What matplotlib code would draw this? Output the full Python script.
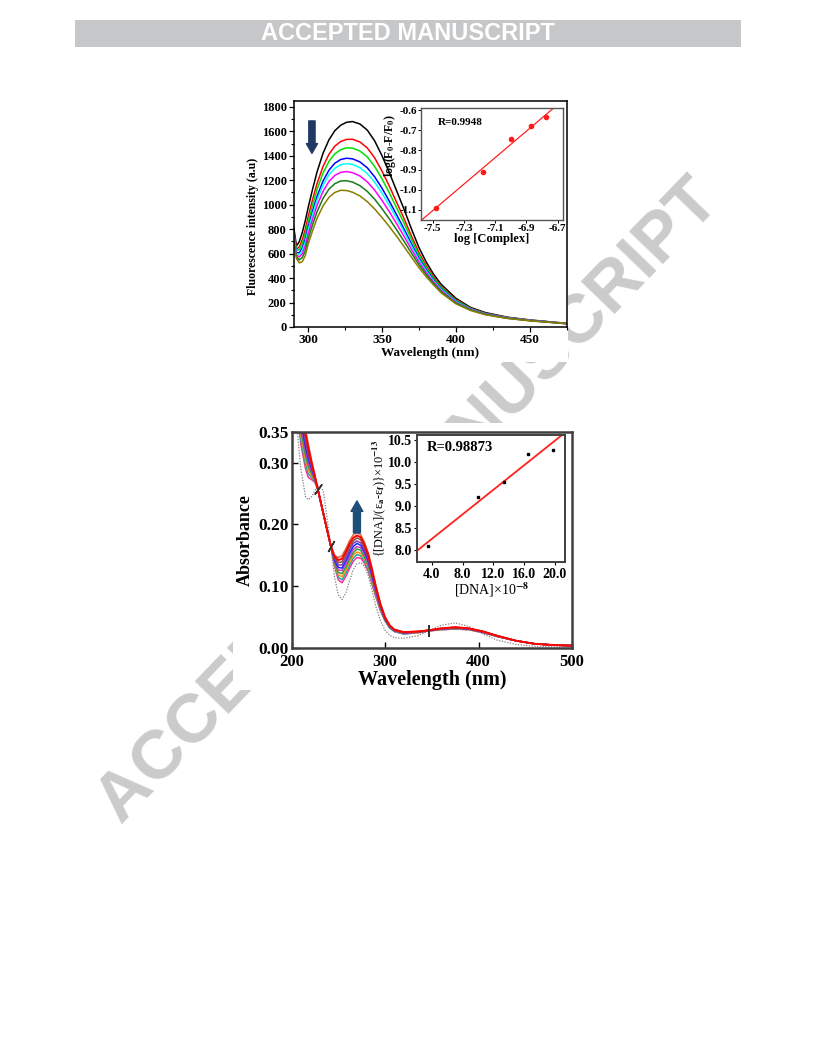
import numpy as np
import matplotlib
matplotlib.use('Agg')
import matplotlib.pyplot as plt
from matplotlib.patches import Rectangle
from matplotlib.markers import MarkerStyle
from matplotlib.ticker import MultipleLocator, FormatStrFormatter, FixedLocator

plt.rcParams['font.family'] = 'Liberation Serif'
plt.rcParams['font.weight'] = 'bold'
plt.rcParams['axes.labelweight'] = 'bold'
plt.rcParams['mathtext.fontset'] = 'stix'
plt.rcParams['axes.unicode_minus'] = False

##FLUORESCENCE QUENCHING DATA
wl_fl = [290, 292, 294, 296, 298, 300, 303, 306, 310, 314, 318, 322, 326, 330, 335, 340,
         345, 350, 355, 360, 365, 370, 375, 380, 385, 390, 400, 410, 420, 435, 450, 475]
fl_black = [830, 662, 700, 775, 870, 980, 1130, 1270, 1420, 1530, 1605, 1650, 1674, 1680, 1660, 1610,
            1522, 1400, 1260, 1110, 960, 800, 650, 530, 430, 350, 235, 160, 118, 80, 58, 30]
fl_red = [795, 636, 656, 715, 799, 905, 1045, 1175, 1312, 1412, 1479, 1517, 1534, 1535, 1513, 1464,
          1383, 1274, 1150, 1017, 884, 742, 609, 500, 408, 332, 224, 154, 113, 77, 56, 29]
fl_green = [777, 624, 634, 685, 763, 867, 1002, 1127, 1259, 1354, 1416, 1450, 1465, 1463, 1439, 1391,
            1313, 1211, 1095, 971, 846, 714, 588, 485, 397, 324, 218, 151, 111, 76, 55, 29]
fl_blue = [756, 608, 607, 649, 720, 822, 951, 1070, 1193, 1282, 1339, 1370, 1380, 1375, 1350, 1302,
           1228, 1134, 1028, 915, 799, 679, 563, 467, 384, 313, 211, 147, 109, 75, 54, 28]
fl_cyan = [745, 600, 593, 629, 697, 798, 924, 1039, 1159, 1245, 1298, 1327, 1335, 1329, 1303, 1255,
           1184, 1093, 993, 885, 775, 660, 550, 457, 377, 308, 208, 145, 107, 74, 54, 28]
fl_magenta = [729, 588, 573, 601, 664, 763, 884, 995, 1109, 1190, 1240, 1265, 1271, 1262, 1235, 1187,
              1119, 1035, 942, 842, 739, 634, 531, 443, 367, 299, 202, 142, 105, 73, 53, 28]
fl_dgreen = [710, 575, 549, 569, 626, 723, 839, 944, 1051, 1127, 1172, 1194, 1196, 1185, 1156, 1109,
             1045, 967, 883, 793, 699, 603, 509, 427, 355, 290, 196, 139, 103, 71, 52, 27]
fl_olive = [690, 560, 524, 535, 585, 680, 790, 890, 990, 1060, 1100, 1118, 1116, 1102, 1072, 1025,
            965, 895, 820, 740, 655, 570, 485, 410, 343, 280, 190, 135, 100, 70, 51, 27]
fl_series = [fl_black, fl_red, fl_green, fl_blue, fl_cyan, fl_magenta, fl_dgreen, fl_olive]
fl_colors = ['black', '#ff0000', '#00e000', '#0000ff', '#00ffff', '#ff00ff', '#1a7a1a', '#8a7d00']

# inset: Stern-Volmer type plot
log_complex = [-7.481, -7.176, -6.998, -6.868, -6.772]
log_ratio = [-1.090, -0.909, -0.742, -0.679, -0.635]

##ABSORPTION TITRATION DATA
wl_ab = [205, 210, 215, 218, 222, 225, 228, 234, 242, 246, 250, 254, 258, 262, 266, 270, 274, 278,
         282, 286, 290, 295, 300, 305, 310, 320, 335, 347, 360, 375, 390, 405, 420, 440, 460, 480, 500]
ab_free = [.37, .29, .245, .240, .246, .255, .263, .255, .165, .115, .086, .078, .088, .108, .126, .136, .138, .132,
           .117, .094, .068, .044, .028, .020, .016, .015, .019, .027, .036, .040, .034, .022, .012, .005, .002, .001, .001]
ab_1 = [.40, .33, .29, .276, .272, .268, .258, .218, .165, .132, .110, .105, .115, .128, .140, .146, .145, .137,
        .124, .104, .083, .060, .043, .032, .026, .022, .024, .027, .029, .030, .029, .024, .018, .011, .006, .004, .003]
ab_2 = [.404, .338, .297, .282, .275, .269, .258, .218, .165, .134, .114, .110, .120, .133, .145, .151, .149, .141,
        .127, .107, .085, .061, .044, .032, .026, .022, .024, .027, .029, .030, .029, .024, .018, .011, .006, .004, .003]
ab_3 = [.409, .346, .304, .288, .278, .271, .258, .218, .165, .136, .118, .115, .125, .138, .150, .155, .153, .145,
        .131, .110, .087, .063, .045, .033, .027, .023, .024, .027, .029, .031, .029, .024, .018, .011, .006, .004, .003]
ab_4 = [.413, .353, .312, .294, .281, .272, .258, .218, .165, .138, .122, .120, .130, .143, .154, .160, .158, .148,
        .134, .113, .089, .064, .045, .033, .027, .023, .025, .027, .030, .031, .030, .025, .018, .011, .006, .004, .003]
ab_5 = [.418, .361, .319, .300, .284, .273, .258, .218, .165, .140, .126, .125, .135, .148, .159, .164, .162, .152,
        .137, .116, .091, .065, .046, .034, .027, .023, .025, .027, .030, .031, .030, .025, .018, .011, .006, .004, .003]
ab_6 = [.422, .369, .326, .306, .288, .275, .258, .218, .165, .142, .130, .129, .140, .153, .164, .169, .166, .156,
        .141, .118, .094, .067, .047, .034, .028, .024, .025, .028, .030, .032, .030, .025, .019, .011, .006, .004, .003]
ab_7 = [.427, .377, .333, .312, .291, .276, .258, .218, .165, .144, .134, .134, .145, .158, .169, .173, .170, .160,
        .144, .121, .096, .068, .048, .035, .028, .024, .025, .028, .030, .032, .030, .025, .019, .011, .006, .004, .003]
ab_8 = [.431, .384, .341, .318, .294, .277, .258, .218, .165, .146, .138, .139, .150, .163, .173, .178, .175, .163,
        .147, .124, .098, .069, .048, .035, .028, .024, .026, .028, .031, .032, .031, .026, .019, .011, .006, .004, .003]
ab_9 = [.436, .392, .348, .324, .297, .279, .258, .218, .165, .148, .142, .144, .155, .168, .178, .182, .179, .167,
        .151, .127, .100, .071, .049, .036, .029, .025, .026, .028, .031, .033, .031, .026, .019, .011, .006, .004, .003]
ab_10 = [.44, .40, .355, .33, .30, .28, .258, .218, .165, .150, .146, .149, .160, .173, .183, .187, .183, .171,
         .154, .130, .102, .072, .050, .036, .029, .025, .026, .028, .031, .033, .031, .026, .019, .011, .006, .004, .003]
ab_series = [ab_1, ab_2, ab_3, ab_4, ab_5, ab_6, ab_7, ab_8, ab_10, ab_9]
ab_colors = ['#ff3399', '#2aa3a3', '#ff8c1a', '#2f9a2f', '#c63fc6', '#2020ff', '#7a3db8', '#8b4c39',
             '#d2693c', '#ff0000']
iso_x = [228, 242, 347]
iso_y = [0.258, 0.165, 0.027]
iso_angle = [-35, -30, 0]

# inset: binding constant plot
dna_conc = [3.48, 10.05, 13.35, 16.55, 19.70]
dna_ratio = [8.09, 9.19, 9.53, 10.18, 10.27]

W, H = 816, 1056
def box(l, t, r, b):
    return [l / W, 1 - b / H, (r - l) / W, (b - t) / H]

fig = plt.figure(figsize=(W / 100, H / 100), dpi=100)

# header bar
fig.patches.append(Rectangle((75 / W, 1 - 47 / H), 666 / W, 27 / H, transform=fig.transFigure,
                             facecolor='#c6c7c9', edgecolor='none', zorder=1))
fig.text(408 / W, 1 - 34 / H, 'ACCEPTED MANUSCRIPT', ha='center', va='center', color='white',
         fontsize=17, family='Liberation Sans', weight='bold', zorder=4)
# watermark
fig.text(409 / W, 1 - 502 / H, 'ACCEPTED MANUSCRIPT', ha='center', va='center', color='#cbcbcb',
         fontsize=50, family='Liberation Sans', weight='bold', rotation=46, zorder=0.5)
# white backing of the two figure images
for (l, t, r, b) in [(245, 95, 568, 362), (233, 423, 580, 690)]:
    bx = box(l, t, r, b)
    fig.patches.append(Rectangle((bx[0], bx[1]), bx[2], bx[3], transform=fig.transFigure,
                                 facecolor='white', edgecolor='none', zorder=1))

##TOP: FLUORESCENCE
ax1 = fig.add_axes(box(293.5, 101, 566.5, 327))
ax1.set_zorder(2)
for ys, c in zip(fl_series, fl_colors):
    ax1.plot(wl_fl, ys, color=c, lw=1.1)
ax1.set_xlim(290, 475)
ax1.set_ylim(0, 1848)
ax1.yaxis.set_major_locator(MultipleLocator(200))
ax1.yaxis.set_minor_locator(MultipleLocator(100))
ax1.xaxis.set_major_locator(MultipleLocator(50))
ax1.xaxis.set_minor_locator(MultipleLocator(25))
ax1.tick_params(which='major', direction='out', length=3.5, width=0.9, labelsize=9, pad=1.5)
ax1.tick_params(which='minor', direction='out', length=2, width=0.8)
ax1.tick_params(axis='x', labelsize=9.5)
for s in ax1.spines.values():
    s.set_linewidth(1.1)
ax1.set_xlabel('Wavelength (nm)', fontsize=9.5, labelpad=1)
ax1.set_ylabel('Fluorescence intensity (a.u)', fontsize=8.5)
ax1.yaxis.set_label_coords(-0.125, 0.447)
ax1.annotate('', xy=(302.5, 1420), xytext=(302.5, 1685),
             arrowprops=dict(arrowstyle='simple,head_length=0.7,head_width=0.8,tail_width=0.45',
                             color='#1f3864', shrinkA=0, shrinkB=0, mutation_scale=10))

ins1 = fig.add_axes(box(421, 107.5, 563, 219.5))
ins1.set_zorder(3)
k1, b1 = np.polyfit(log_complex, log_ratio, 1)
xl1 = np.array([-7.6, -6.6])
ins1.plot(xl1, k1 * xl1 + b1, color='#ff2020', lw=0.9)
ins1.plot(log_complex, log_ratio, 'o', color='#ff1a1a', ms=3)
ins1.set_xlim(-7.575, -6.665)
ins1.set_ylim(-1.149, -0.586)
ins1.xaxis.set_major_locator(FixedLocator([-7.5, -7.3, -7.1, -6.9, -6.7]))
ins1.yaxis.set_major_locator(FixedLocator([-1.1, -1.0, -0.9, -0.8, -0.7, -0.6]))
ins1.xaxis.set_major_formatter(FormatStrFormatter('%.1f'))
ins1.yaxis.set_major_formatter(FormatStrFormatter('%.1f'))
ins1.tick_params(direction='out', length=2, width=0.7, labelsize=8, pad=1)
for s in ins1.spines.values():
    s.set_color('#555555')
    s.set_linewidth(1.0)
ins1.set_xlabel('log [Complex]', fontsize=9, labelpad=0)
ins1.set_ylabel(r'log(F$_\mathbf{0}$-F/F$_\mathbf{0}$)', fontsize=8.5)
ins1.yaxis.set_label_coords(-0.165, 0.66)
ins1.text(0.12, 0.87, 'R=0.9948', transform=ins1.transAxes, fontsize=8, va='center')

##BOTTOM: ABSORPTION
ax2 = fig.add_axes(box(291.5, 432, 572, 647.5))
ax2.set_zorder(2)
ax2.plot(wl_ab, ab_free, color='#808080', ls=(0, (1, 1.2)), lw=0.9)
for ys, c in zip(ab_series, ab_colors):
    ax2.plot(wl_ab, ys, color=c, lw=1.4 if c == '#ff0000' else 1.1)
for x, y, a in zip(iso_x, iso_y, iso_angle):
    ax2.plot(x, y, ls='none', marker=MarkerStyle((2, 2, a)), ms=9, mew=1.1, color='#333333')
ax2.set_xlim(200, 500)
ax2.set_ylim(0, 0.35)
ax2.xaxis.set_major_locator(MultipleLocator(100))
ax2.yaxis.set_major_locator(FixedLocator([0.0, 0.1, 0.2, 0.3, 0.35]))
ax2.yaxis.set_major_formatter(FormatStrFormatter('%.2f'))
ax2.tick_params(direction='in', length=4, width=1, labelsize=12.5, pad=2)
ax2.tick_params(axis='x', labelsize=12, pad=5)
for s in ax2.spines.values():
    s.set_color('#404040')
    s.set_linewidth(1.8)
ax2.set_xlabel('Wavelength (nm)', fontsize=14.5, labelpad=0)
ax2.set_ylabel('Absorbance', fontsize=13, labelpad=3)
ax2.annotate('', xy=(270, 0.238), xytext=(270, 0.186),
             arrowprops=dict(arrowstyle='simple,head_length=0.75,head_width=0.85,tail_width=0.5',
                             color='#1f4e79', shrinkA=0, shrinkB=0, mutation_scale=10))

ins2 = fig.add_axes(box(417.5, 435, 565, 562))
ins2.set_zorder(3)
k2, b2 = np.polyfit(dna_conc, dna_ratio, 1)
xl2 = np.array([0, 24])
ins2.plot(xl2, k2 * xl2 + b2, color='#ff2020', lw=1.3)
ins2.plot(dna_conc, dna_ratio, 's', color='black', ms=1.8)
ins2.set_xlim(2.13, 21.3)
ins2.set_ylim(7.72, 10.61)
ins2.xaxis.set_major_locator(FixedLocator([4, 8, 12, 16, 20]))
ins2.yaxis.set_major_locator(FixedLocator([8.0, 8.5, 9.0, 9.5, 10.0, 10.5]))
ins2.xaxis.set_major_formatter(FormatStrFormatter('%.1f'))
ins2.yaxis.set_major_formatter(FormatStrFormatter('%.1f'))
ins2.tick_params(direction='out', length=2.5, width=0.8, labelsize=10, pad=1.5)
for s in ins2.spines.values():
    s.set_color('#404040')
    s.set_linewidth(1.4)
ins2.set_xlabel(r'[DNA]×10$^{\mathrm{-8}}$', fontsize=10, fontweight='normal', labelpad=0)
ins2.set_ylabel(r'{[DNA]/(ε$_\mathrm{a}$-ε$_\mathrm{f}$)}×10$^{\mathrm{-13}}$', fontsize=8.8,
                fontweight='normal')
ins2.yaxis.set_label_coords(-0.2, 0.5)
ins2.text(0.064, 0.898, 'R=0.98873', transform=ins2.transAxes, fontsize=10.5, va='center')

fig.savefig('out.png', dpi=100)
